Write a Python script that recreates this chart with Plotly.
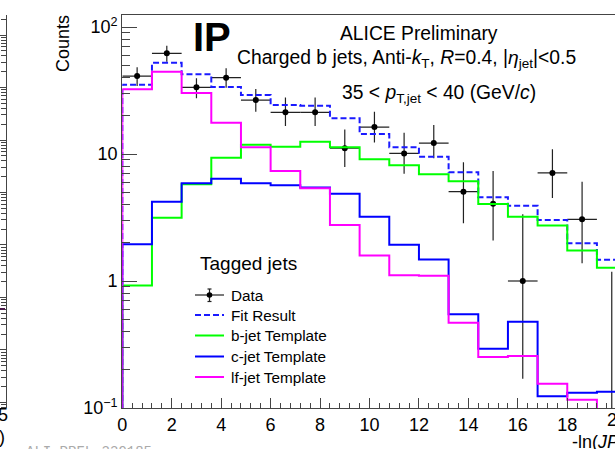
import plotly.graph_objects as go

W, H = 615, 449
FONT = "Liberation Sans, Arial, sans-serif"

# Binning of -ln(JP): 17 bins of width 1.2
bin_edges = [0.0, 1.2, 2.4, 3.6, 4.8, 6.0, 7.2, 8.4, 9.6, 10.8, 12.0, 13.2,
             14.4, 15.6, 16.8, 18.0, 19.2, 20.4]
bin_centers = [0.6, 1.8, 3.0, 4.2, 5.4, 6.6, 7.8, 9.0, 10.2, 11.4, 12.6,
               13.8, 15.0, 16.2, 17.4, 18.6, 19.8]

# Tagged-jet data with asymmetric uncertainties
data_counts = [41.1, 62.1, 33.5, 39.9, 26.6, 21.3, 21.3, 11.1, 16.3, 10.1,
               12.2, 5.05, 4.05, 1.0, 7.1, 3.06, 0.0]
data_err_up = [7.1, 9.2, 6.0, 7.4, 5.9, 6.6, 6.6, 4.5, 5.2, 4.6,
               4.7, 3.55, 3.3, 2.35, 3.8, 3.0, 1.18]
data_err_down = [6.8, 8.8, 6.0, 6.6, 5.1, 4.7, 4.7, 3.2, 4.0, 3.1,
                 2.95, 2.2, 1.97, 0.83, 2.6, 1.68, 0.0]

# Fit result and templates
fit_result = [35.1, 52.3, 42.4, 33.7, 29.1, 24.3, 24.0, 19.1, 14.4, 11.3,
              9.52, 7.18, 4.56, 3.92, 3.02, 1.98, 1.47]
b_template = [0.92, 3.15, 5.77, 9.35, 11.8, 11.4, 12.5, 11.3, 9.09, 8.15,
              6.92, 6.10, 4.04, 3.21, 2.73, 1.74, 1.27]
c_template = [1.95, 4.21, 5.88, 6.39, 5.88, 5.67, 5.46, 4.87, 3.21, 1.93,
              1.48, 0.547, 0.293, 0.478, 0.124, 0.132, 0.134]
lf_template = [32.3, 44.5, 30.2, 17.6, 11.3, 7.35, 5.37, 2.76, 1.59, 1.11,
               1.10, 0.47, 0.252, 0.257, 0.155, 0.116, 0.0]

y_tickvals = [0.1, 1, 10, 100]
y_ticktext = ["10<sup>\u22121</sup>", "1", "10", "10<sup>2</sup>"]
y_minor = [m * d for d in (0.1, 1, 10) for m in range(2, 10)]

FLOOR = 1e-3  # below the visible range: empty bins sit on the frame bottom


def outline(values):
    """Histogram outline starting from the frame bottom at the first edge."""
    vals = [v if v > 0 else FLOOR for v in values]
    return [bin_edges[0]] + bin_edges, [FLOOR] + vals + [vals[-1]]


fig = go.Figure()

# Data points
y_pts = [v if v > 0 else FLOOR for v in data_counts]
err_plus = [v + u - y for v, u, y in zip(data_counts, data_err_up, y_pts)]
err_minus = [min(d, y) for d, y in zip(data_err_down, y_pts)]
half_w = [(bin_edges[i + 1] - bin_edges[i]) / 2 for i in range(len(bin_centers))]
fig.add_trace(go.Scatter(
    x=bin_centers, y=y_pts, mode="markers", name="Data",
    marker=dict(color="black", size=6),
    error_y=dict(type="data", symmetric=False, array=err_plus,
                 arrayminus=err_minus, color="#222", thickness=1.2, width=0),
    error_x=dict(type="data", array=half_w, color="#222", thickness=1.2, width=0),
    showlegend=False, hoverinfo="skip"))

styles = [
    (fit_result, "#1a1aff", "6px,3px"),
    (b_template, "#00ff00", "solid"),
    (c_template, "#0000ff", "solid"),
    (lf_template, "#ff00ff", "solid"),
]
for vals, col, dash in styles:
    xs, ys = outline(vals)
    fig.add_trace(go.Scatter(
        x=xs, y=ys, mode="lines", line=dict(color=col, width=2, shape="hv", dash=dash),
        showlegend=False, hoverinfo="skip"))

# Axis of the neighbouring panel at the left edge
fig.add_trace(go.Scatter(x=[], y=[], yaxis="y2", showlegend=False, hoverinfo="skip"))


def P(x, y):
    return x / W, 1 - y / H


left, top, bottom = 122.3, 15, 408
x_max = (W - left) / 24.72

fig.update_layout(
    width=W, height=H, autosize=False,
    margin=dict(l=0, r=0, t=0, b=0, pad=0, autoexpand=False),
    paper_bgcolor="white", plot_bgcolor="white",
    font=dict(family=FONT, color="black"),
    xaxis=dict(domain=[left / W, 1], range=[0, x_max], showgrid=False, zeroline=False,
               automargin=False,
               showline=True, linecolor="#444", linewidth=1.2, mirror=True,
               ticks="inside", ticklen=10, tickwidth=1, tickcolor="#444",
               tick0=0, dtick=2, tickfont=dict(size=18, family=FONT),
               minor=dict(dtick=0.4, ticks="inside", ticklen=5, tickwidth=1, tickcolor="#444")),
    yaxis=dict(domain=[1 - bottom / H, 1 - top / H], type="log", range=[-1.0, 2.0945],
               automargin=False,
               showgrid=False, zeroline=False, showline=True, linecolor="#444", linewidth=1.2,
               ticks="inside", ticklen=15, tickwidth=1, tickcolor="#444",
               tickmode="array", tickvals=y_tickvals, ticktext=y_ticktext,
               tickfont=dict(size=18, family=FONT),
               minor=dict(tickmode="array", tickvals=y_minor, ticks="inside",
                          ticklen=8, tickwidth=1, tickcolor="#444")),
    yaxis2=dict(type="log", range=[-7.105, 0.381], overlaying="y", anchor="free",
                position=6 / W, side="left", showgrid=False, zeroline=False,
                automargin=False,
                showline=True, linecolor="#444", linewidth=1,
                ticks="outside", ticklen=9, tickwidth=1, tickcolor="#444", dtick=1,
                showticklabels=False,
                minor=dict(ticks="outside", ticklen=5, tickwidth=1, tickcolor="#444", dtick="D1")),
)

ann = []


def text(x, y, s, size=18, xanchor="center", yanchor="middle", **kw):
    px, py = P(x, y)
    ann.append(dict(x=px, y=py, xref="paper", yref="paper", text=s, showarrow=False,
                    xanchor=xanchor, yanchor=yanchor,
                    font=dict(size=size, family=kw.pop("family", FONT),
                              color=kw.pop("color", "black")), **kw))


text(212, 37, "<b>IP</b>", size=40)
text(418.5, 33, "ALICE Preliminary", size=19.3)
text(406.5, 59, "Charged b jets, Anti-<i>k</i><sub>T</sub>, <i>R</i>=0.4, "
                "|<i>\u03b7</i><sub>jet</sub>|&lt;0.5", size=19.3)
text(438.5, 94, "35 &lt; <i>p</i><sub>T,jet</sub> &lt; 40 (GeV/<i>c</i>)", size=19.3)
text(62.5, 43.5, "Counts", textangle=-90)
text(570, 441.5, "-ln(<i>JP</i>)", xanchor="left")
text(616.7, 419.5, "20")
text(10, 415, "5", xanchor="right")
text(6.5, 437, ")", xanchor="right")
text(24, 452, "ALI-PREL-339185", size=14, xanchor="left",
     family="Liberation Mono, DejaVu Sans Mono, monospace", color="#aaaaaa")

# Legend
text(197.5, 263, "Tagged jets", size=19, xanchor="left")
legend_rows = [("Data", 295), ("Fit Result", 315), ("b-jet Template", 335.5),
               ("c-jet Template", 356.5), ("lf-jet Template", 377)]
for label, yy in legend_rows:
    text(228.5, yy, label, size=15.3, xanchor="left")

shapes = []


def seg(x0, y0, x1, y1, color, width=2, dash="solid"):
    a, b = P(x0, y0)
    c, d = P(x1, y1)
    shapes.append(dict(type="line", xref="paper", yref="paper", x0=a, y0=b, x1=c, y1=d,
                       line=dict(color=color, width=width, dash=dash)))


seg(195, 295, 224, 295, "#222", 1.2)
seg(209.5, 289, 209.5, 301.5, "#222", 1.2)
seg(207.5, 289, 211.5, 289, "#222", 1.2)
seg(207.5, 301.5, 211.5, 301.5, "#222", 1.2)
cx, cy = P(209.5, 295)
shapes.append(dict(type="circle", xref="paper", yref="paper",
                   x0=cx - 2.8 / W, x1=cx + 2.8 / W, y0=cy - 2.8 / H, y1=cy + 2.8 / H,
                   fillcolor="black", line=dict(width=0)))
seg(195, 315, 224, 315, "#1a1aff", 2, "6px,3px")
seg(195, 335.5, 224, 335.5, "#00ff00", 2)
seg(195, 356.5, 224, 356.5, "#0000ff", 2)
seg(195, 377, 224, 377, "#ff00ff", 2)
# piece of the neighbouring panel's histogram
seg(0, 309, 5, 309, "#4a1a4a", 2)

fig.update_layout(annotations=ann, shapes=shapes)
fig.write_html("out.html", config={"responsive": False})
